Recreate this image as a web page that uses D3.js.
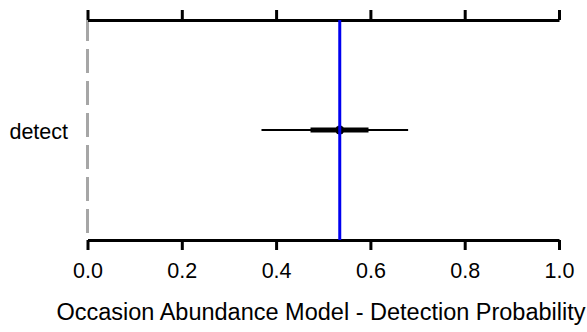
<!DOCTYPE html>
<html>
<head>
<meta charset="utf-8">
<script src="https://cdn.jsdelivr.net/npm/d3@7/dist/d3.min.js"></script>
<style>
  html, body { margin: 0; padding: 0; background: #fff; }
  svg { display: block; }
  text { font-family: "Liberation Sans", Arial, sans-serif; fill: #000; }
</style>
</head>
<body>
<svg id="chart" width="587" height="332"></svg>
<script>
// Posterior summary for the detection parameter
const parameters = ["detect"];
const means = [0.535];
const ci95Low = [0.369];
const ci95High = [0.680];
const ci50Low = [0.473];
const ci50High = [0.596];
const meanLine = [0.535];
const zeroLine = [0];
const xTicks = [0, 0.2, 0.4, 0.6, 0.8, 1.0];
const xLabel = "Occasion Abundance Model - Detection Probability";

const plotLeft = 87.5, plotRight = 559, plotTop = 20, plotBottom = 240;

const svg = d3.select("#chart");

const x = d3.scaleLinear().domain([0, 1]).range([plotLeft, plotRight]);
const y = d3.scalePoint().domain(parameters).range([plotTop, plotBottom]).padding(0.5);

const rows = parameters.map((p, i) => ({
  p, mean: means[i], lo95: ci95Low[i], hi95: ci95High[i], lo50: ci50Low[i], hi50: ci50High[i]
}));

// reference line at zero
svg.selectAll("line.zero").data(zeroLine).join("line")
  .attr("class", "zero")
  .attr("x1", d => x(d)).attr("x2", d => x(d))
  .attr("y1", plotTop).attr("y2", plotBottom)
  .attr("stroke", "#a6a6a6").attr("stroke-width", 3)
  .attr("stroke-dasharray", "24,8").attr("stroke-dashoffset", 3);

// axes at top and bottom
function styleAxis(g) {
  g.select(".domain").attr("stroke", "#000").attr("stroke-width", 3);
  g.selectAll(".tick line").attr("stroke", "#000").attr("stroke-width", 3);
}

svg.append("g").attr("transform", `translate(0,${plotTop})`)
  .call(d3.axisTop(x).tickValues(xTicks).tickSize(10).tickSizeOuter(0).tickFormat(""))
  .call(styleAxis);

const axBottom = svg.append("g").attr("transform", `translate(0,${plotBottom})`)
  .call(d3.axisBottom(x).tickValues(xTicks).tickSize(10).tickSizeOuter(0).tickFormat(d3.format(".1f")))
  .call(styleAxis);
axBottom.selectAll(".tick text")
  .attr("y", 38).attr("dy", null)
  .style("font-size", "21.5px")
  .style("font-family", '"Liberation Sans", Arial, sans-serif')
  .attr("fill", "#000");

// parameter labels
svg.selectAll("text.param").data(rows).join("text")
  .attr("class", "param")
  .attr("x", 68).attr("y", d => y(d.p) + 8.5)
  .attr("text-anchor", "end")
  .style("font-size", "21.5px")
  .text(d => d.p);

// 95% interval
svg.selectAll("line.ci95").data(rows).join("line")
  .attr("class", "ci95")
  .attr("x1", d => x(d.lo95)).attr("x2", d => x(d.hi95))
  .attr("y1", d => y(d.p)).attr("y2", d => y(d.p))
  .attr("stroke", "#000").attr("stroke-width", 2);

// 50% interval
svg.selectAll("line.ci50").data(rows).join("line")
  .attr("class", "ci50")
  .attr("x1", d => x(d.lo50)).attr("x2", d => x(d.hi50))
  .attr("y1", d => y(d.p)).attr("y2", d => y(d.p))
  .attr("stroke", "#000").attr("stroke-width", 5);

// posterior mean
svg.selectAll("circle.mean").data(rows).join("circle")
  .attr("class", "mean")
  .attr("cx", d => x(d.mean)).attr("cy", d => y(d.p))
  .attr("r", 4.5).attr("fill", "#000");

// overall mean line
svg.selectAll("line.meanLine").data(meanLine).join("line")
  .attr("class", "meanLine")
  .attr("x1", d => x(d)).attr("x2", d => x(d))
  .attr("y1", plotTop).attr("y2", plotBottom)
  .attr("stroke", "#0000f0").attr("stroke-width", 3);

// x-axis title
svg.append("text")
  .attr("x", 321).attr("y", 320)
  .attr("text-anchor", "middle")
  .style("font-size", "23.5px")
  .text(xLabel);
</script>
</body>
</html>
